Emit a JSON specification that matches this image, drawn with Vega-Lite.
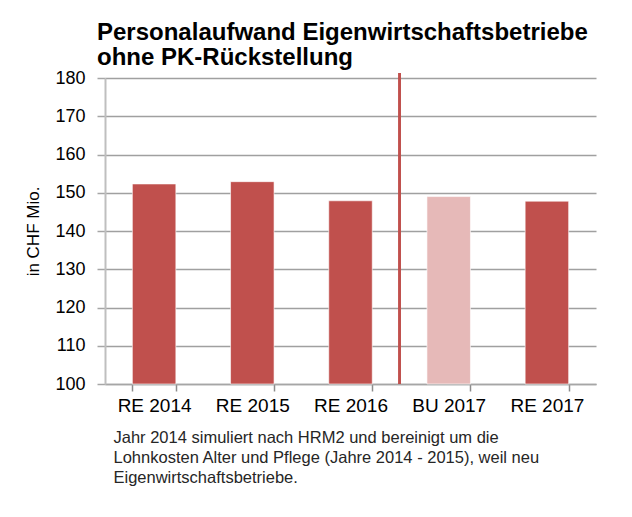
{
  "$schema": "https://vega.github.io/schema/vega-lite/v6.json",
  "width": 491,
  "height": 306,
  "autosize": {"type": "none"},
  "padding": {"left": 105, "top": 78, "right": 36, "bottom": 133},
  "background": "white",
  "config": {
    "font": "Liberation Sans",
    "view": {"stroke": null},
    "axisX": {"ticks": true, "tickBand": "extent", "tickSize": 7, "tickWidth": 1.5, "tickColor": "#8c8c8c"}
  },
  "title": {
    "text": ["Personalaufwand Eigenwirtschaftsbetriebe", "ohne PK-Rückstellung"],
    "anchor": "start",
    "frame": "group",
    "dx": -8,
    "fontSize": 24,
    "fontWeight": "bold",
    "color": "#000000",
    "lineHeight": 25,
    "offset": -1
  },
  "data": {
    "values": [
      {"kategorie": "RE 2014", "wert": 152.3, "typ": "Rechnung"},
      {"kategorie": "RE 2015", "wert": 152.9, "typ": "Rechnung"},
      {"kategorie": "RE 2016", "wert": 147.9, "typ": "Rechnung"},
      {"kategorie": "BU 2017", "wert": 149.0, "typ": "Budget"},
      {"kategorie": "RE 2017", "wert": 147.8, "typ": "Rechnung"}
    ]
  },
  "encoding": {
    "x": {
      "field": "kategorie",
      "type": "nominal",
      "sort": null,
      "scale": {"paddingInner": 0.557, "paddingOuter": 0.2785},
      "axis": {
        "title": [
          "Jahr 2014 simuliert nach HRM2  und bereinigt um die",
          "Lohnkosten  Alter und Pflege (Jahre 2014 - 2015), weil  neu",
          "Eigenwirtschaftsbetriebe."
        ],
        "titleFontSize": 16.5,
        "titleFontWeight": "normal",
        "titleColor": "#262626",
        "titleAlign": "left",
        "titleAnchor": "start",
        "titleX": 8,
        "titleY": 45,
        "titleBaseline": "top",
        "titleLineHeight": 20,
        "labelAngle": 0,
        "labelFontSize": 19,
        "labelColor": "#000000",
        "labelPadding": 5,
        "domainColor": "#a6a6a6",
        "domainWidth": 1.5,
        "grid": false
      }
    }
  },
  "layer": [
    {
      "mark": {"type": "bar", "stroke": "#ffffff", "strokeWidth": 0.6},
      "encoding": {
        "y": {
          "field": "wert",
          "type": "quantitative",
          "scale": {"domain": [100, 180], "nice": false, "zero": false},
          "axis": {
            "title": "in CHF Mio.",
            "titleFontSize": 17,
            "titleFontWeight": "normal",
            "titleColor": "#000000",
            "titleX": -72,
            "titleBaseline": "middle",
            "tickCount": 8,
            "labelFontSize": 18,
            "labelColor": "#000000",
            "labelPadding": 12,
            "tickSize": 8,
            "tickWidth": 1.5,
            "tickColor": "#a6a6a6",
            "gridColor": "#a0a0a0",
            "gridWidth": 1.5,
            "domainColor": "#bfbfbf",
            "domainWidth": 2
          }
        },
        "y2": {"datum": 100},
        "color": {
          "field": "typ",
          "type": "nominal",
          "scale": {"domain": ["Rechnung", "Budget"], "range": ["#c0504d", "#e6b9b8"]},
          "legend": null
        }
      }
    },
    {
      "mark": {"type": "rule", "color": "#c0504d", "strokeWidth": 2},
      "encoding": {
        "x": {"datum": "BU 2017", "type": "nominal", "bandPosition": -0.629},
        "y": {"datum": 100, "type": "quantitative"},
        "y2": {"datum": 181.3}
      }
    }
  ]
}
